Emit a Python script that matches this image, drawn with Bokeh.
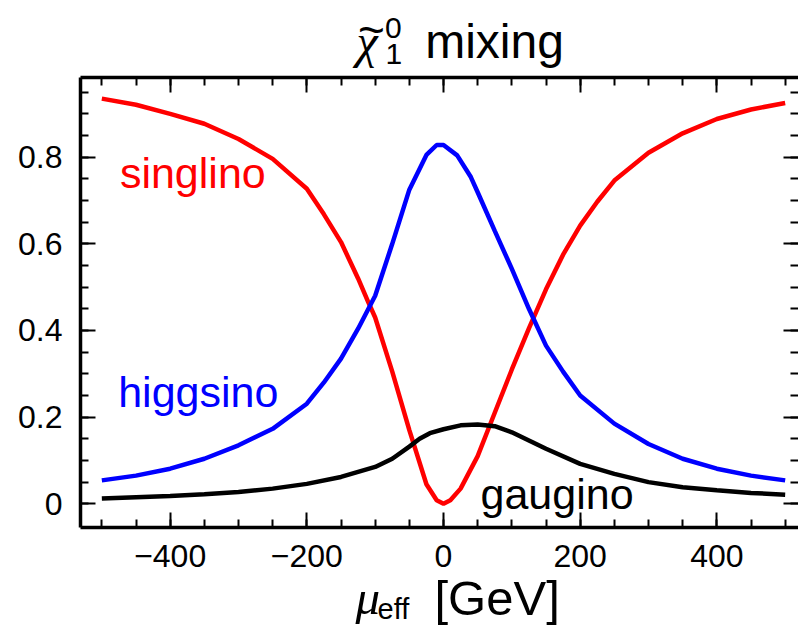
from bokeh.plotting import figure
from bokeh.models import FixedTicker, LinearAxis, Label, Range1d
from bokeh.embed import file_html
from bokeh.resources import INLINE

# ---- data ----
singlino_x = [-500, -450, -400, -350, -300, -250, -200, -175, -150, -125, -110, -100, -75, -50, -25, -10, 0,
              10, 25, 50, 75, 100, 125, 150, 175, 200, 225, 250, 300, 350, 400, 450, 500]
singlino_y = [0.935, 0.921, 0.900, 0.877, 0.842, 0.796, 0.727, 0.668, 0.604, 0.520, 0.465, 0.430, 0.305, 0.170, 0.045, 0.008, 0.0,
              0.008, 0.035, 0.110, 0.210, 0.310, 0.405, 0.495, 0.575, 0.642, 0.697, 0.746, 0.810, 0.855, 0.888, 0.910, 0.925]

higgsino_x = [-500, -450, -400, -350, -300, -250, -200, -175, -150, -125, -100, -75, -50, -25, -10, 0,
              20, 40, 50, 75, 100, 125, 150, 175, 200, 250, 300, 350, 400, 450, 500]
higgsino_y = [0.054, 0.065, 0.081, 0.104, 0.135, 0.173, 0.231, 0.280, 0.335, 0.404, 0.480, 0.600, 0.725, 0.805, 0.828, 0.828,
              0.804, 0.754, 0.719, 0.630, 0.542, 0.450, 0.365, 0.305, 0.250, 0.185, 0.138, 0.104, 0.081, 0.065, 0.054]

gaugino_x = [-500, -450, -400, -350, -300, -250, -200, -150, -100, -75, -50, -35, -20, 0, 25, 50, 75, 100, 125, 150,
             200, 250, 300, 350, 400, 450, 500]
gaugino_y = [0.012, 0.015, 0.018, 0.022, 0.027, 0.035, 0.046, 0.062, 0.085, 0.104, 0.132, 0.150, 0.163, 0.172, 0.181, 0.183,
             0.179, 0.165, 0.146, 0.127, 0.092, 0.069, 0.050, 0.038, 0.031, 0.025, 0.021]

x_major = [-400, -200, 0, 200, 400]
x_minor = list(range(-500, 501, 50))
y_major = [0.0, 0.2, 0.4, 0.6, 0.8]
y_minor = [round(0.05 * i, 2) for i in range(0, 20)]
x_tick_labels = {-400: "\u2212400", -200: "\u2212200", 0: "0", 200: "200", 400: "400"}
y_tick_labels = {0: "0", 0.2: "0.2", 0.4: "0.4", 0.6: "0.6", 0.8: "0.8"}

# visible frame (data units) and full-canvas ranges
FX0, FX1 = -531.2, 519.5
FY0, FY1 = -0.0547, 0.984
X_RANGE = (-648.3, 519.5)
Y_RANGE = (-0.2832, 1.1615)

SANS = "Liberation Sans"
SERIF = "Liberation Serif"

W, H = 798, 626
p = figure(width=W, height=H,
           x_range=Range1d(*X_RANGE), y_range=Range1d(*Y_RANGE),
           output_backend="svg", toolbar_location=None,
           min_border=0, min_border_left=0, min_border_right=0, min_border_top=0, min_border_bottom=0)
p.title.visible = False
p.grid.visible = False
p.outline_line_color = None
p.background_fill_color = "white"
p.border_fill_color = "white"

p.line(singlino_x, singlino_y, line_color="#ff0000", line_width=4.5)
p.line(higgsino_x, higgsino_y, line_color="#0000ff", line_width=4.5)
p.line(gaugino_x, gaugino_y, line_color="black", line_width=4.5)


def style(ax, show_line=True):
    ax.axis_line_color = "black" if show_line else None
    ax.axis_line_width = 3.5
    ax.major_tick_in = 15
    ax.major_tick_out = 0
    ax.minor_tick_in = 8
    ax.minor_tick_out = 0
    ax.major_tick_line_width = 2
    ax.minor_tick_line_width = 2
    ax.major_tick_line_color = "black"
    ax.minor_tick_line_color = "black"


bx = p.xaxis[0]
bx.ticker = FixedTicker(ticks=x_major, minor_ticks=x_minor)
bx.fixed_location = FY0
bx.bounds = (FX0, FX1)
style(bx)
bx.major_label_overrides = x_tick_labels
bx.major_label_text_font = SANS
bx.major_label_text_font_size = "32px"
bx.major_label_text_color = "black"
bx.major_label_standoff = 18

ly = p.yaxis[0]
ly.ticker = FixedTicker(ticks=y_major, minor_ticks=y_minor)
ly.fixed_location = FX0
ly.bounds = (FY0, FY1)
style(ly)
ly.major_label_overrides = y_tick_labels
ly.major_label_text_font = SANS
ly.major_label_text_font_size = "32px"
ly.major_label_text_color = "black"
ly.major_label_standoff = 18

tx = LinearAxis(ticker=FixedTicker(ticks=x_major, minor_ticks=x_minor), fixed_location=FY1, bounds=(FX0, FX1))
style(tx)
tx.major_label_overrides = {t: "" for t in x_major}
tx.major_label_text_font_size = "1px"
tx.major_label_standoff = 0
p.add_layout(tx, "above")

ry = LinearAxis(ticker=FixedTicker(ticks=y_major, minor_ticks=y_minor), fixed_location=FX1 - 0.5, bounds=(FY0, FY1))
style(ry, show_line=False)
ry.major_label_overrides = {t: "" for t in y_major}
ry.major_label_text_font_size = "1px"
ry.major_label_standoff = 0
p.add_layout(ry, "right")


# pixel -> data helpers for text placement (baseline compensated)
def tx_(px):
    return (px - 443.0) / 0.6833


def ty_(py, fs):
    return (503.3 - (py - 0.30 * fs)) / 433.3


def add_text(text, px, py, fs, color="black", font=SANS, style_="normal", align="left"):
    p.add_layout(Label(x=tx_(px), y=ty_(py, fs), text=text, text_color=color, text_font=font,
                       text_font_style=style_, text_font_size=f"{fs}px", text_align=align,
                       text_baseline="alphabetic"))


# curve labels
add_text("singlino", 119.4, 185.7, 43, color="#ff0000")
add_text("higgsino", 117.7, 404, 43, color="#0000ff")
add_text("gaugino", 480, 506.7, 43)

# title: chi-tilde_1^0 mixing
add_text("\u03c7", 356, 55, 48, font=SERIF, style_="italic")
add_text("~", 371, 43, 46, align="center")
add_text("0", 384.5, 37, 30)
add_text("1", 385, 63, 30)
add_text("mixing", 424.7, 55, 48)

# x-axis label: mu_eff [GeV]
add_text("\u03bc", 355, 612, 49, font=SERIF, style_="italic")
add_text("eff", 377, 617, 29)
add_text("[GeV]", 434, 612, 49)

open("out.html", "w").write(file_html(p, INLINE))
